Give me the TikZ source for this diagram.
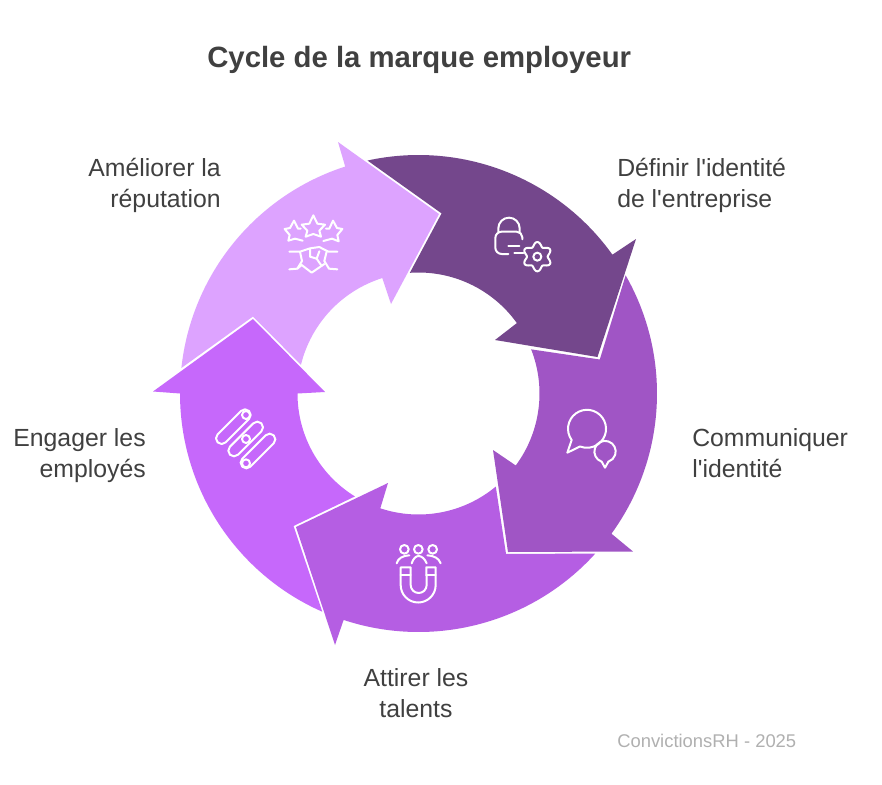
\documentclass[tikz,border=0pt]{standalone}
\usepackage{fontspec}
\setmainfont{Liberation Sans}[Ligatures=TeXOff]
\usetikzlibrary{calc}
\definecolor{arrowA}{HTML}{74478C}
\definecolor{arrowB}{HTML}{A055C5}
\definecolor{arrowC}{HTML}{B55EE3}
\definecolor{arrowD}{HTML}{C668FB}
\definecolor{arrowE}{HTML}{DDA3FF}
\definecolor{inkdark}{HTML}{404040}
\definecolor{inkfoot}{HTML}{B0B0B0}
\tikzset{
  labeltext/.style={inner sep=0pt,text=inkdark,font=\fontsize{18.6}{23.2}\selectfont},
  titletext/.style={inner sep=0pt,text=inkdark,font=\fontsize{22}{27}\selectfont\bfseries},
  foottext/.style={inner sep=0pt,text=inkfoot,font=\fontsize{13.8}{16}\selectfont},
  iconline/.style={draw=white,line width=1.5pt,line cap=round,line join=round},
  iconarea/.style={x=.25pt,y=-.25pt}
}
\begin{document}
\begin{tikzpicture}[x=.75pt,y=-.75pt]
\useasboundingbox (0,0) rectangle (882,785);
\fill[white] (0,0) rectangle (882,785);
\coordinate (c) at (418.5,393.5);
\def\Ro{238.5}
\def\Ri{121}
% arrow 1
\fill[arrowA] ($(c)+(-102.35:\Ro)$) arc[start angle=-102.35,end angle=-35.6,radius=\Ro]
  -- (636,239) -- (597.5,357) -- (495,340) -- ($(c)+(-35.6:\Ri)$)
  arc[start angle=-35.6,end angle=-94.1,radius=\Ri] -- (441.6,213.4) -- cycle;
% arrow 2
\fill[arrowB] ($(c)+(-29.7:\Ro)$) arc[start angle=-29.7,end angle=36,radius=\Ro]
  -- (633,551.5) -- (508,552) -- (493,450) -- ($(c)+(36.5:\Ri)$)
  arc[start angle=36.5,end angle=-21.4,radius=\Ri] -- (599.8,359.5) -- cycle;
% arrow 3
\fill[arrowC] ($(c)+(42.2:\Ro)$) arc[start angle=42.2,end angle=108.3,radius=\Ro]
  -- (335,645) -- (296,527) -- (388,483) -- ($(c)+(108.4:\Ri)$)
  arc[start angle=108.4,end angle=50.3,radius=\Ri] -- (506,553.8) -- cycle;
% arrow 4
\fill[arrowD] ($(c)+(113.8:\Ro)$) arc[start angle=113.8,end angle=180,radius=\Ro]
  -- (153,391.5) -- (253,319) -- (325,392) -- ($(c)+(180:\Ri)$)
  arc[start angle=180,end angle=121.7,radius=\Ri] -- (293.5,526) -- cycle;
% arrow 5
\fill[arrowE] ($(c)+(186.15:\Ro)$) arc[start angle=186.15,end angle=252.1,radius=\Ro]
  -- (338,142) -- (439,214) -- (391,304) -- ($(c)+(252.6:\Ri)$)
  arc[start angle=252.6,end angle=193.7,radius=\Ri] -- (253,316.5) -- cycle;

% lock and gear
\begin{scope}[shift={(260,130)},iconarea]
  \draw[iconline] (715,305) -- (715,295) arc[start angle=180,end angle=360,radius=32] -- (779,305);
  \draw[iconline] (745,372) -- (725,372) arc[start angle=90,end angle=180,radius=19] -- (706,324)
    arc[start angle=180,end angle=270,radius=19] -- (770,305) arc[start angle=270,end angle=360,radius=17] -- (787,328);
  \draw[iconline] (745,347) -- (778,347) (763,369) -- (790,369);
  \draw[iconline] (832,380) circle[radius=12];
  \draw[iconline] plot[domain=0:360,samples=73,smooth cycle] ({832+(37.5+6.5*(-cos(6*\x)))*cos(\x)},{380+(37.5+6.5*(-cos(6*\x)))*sin(\x)});
\end{scope}

% stars and handshake
\begin{scope}[shift={(260,130)},iconarea]
  \draw[iconline] (160,256) -- (172,281) -- (195,284) -- (178,302) -- (183,320) -- (160,312) -- (137,320) -- (142,302) -- (125,284) -- (148,281) -- cycle;
  \draw[iconline] (122,296) -- (114,296) -- (102,272) -- (90,294) -- (74,297) -- (89,315) -- (85,332) -- (105,326) -- (128,332);
  \draw[iconline] (198,296) -- (208,296) -- (219,272) -- (231,294) -- (247,297) -- (232,315) -- (236,334) -- (216,326) -- (190,333);
  \draw[iconline] (88,365) -- (120,365) -- (150,355) -- (178,351) -- (205,365) -- (232,365);
  \draw[iconline] (120,365) -- (126,393) -- (112,416) -- (88,418);
  \draw[iconline] (200,365) -- (193,393) -- (207,416) -- (232,418);
  \draw[iconline] (112,416) -- (125,405) -- (155,428) -- (193,402);
  \draw[iconline] (150,358) -- (150,380) -- (170,386) -- (178,364);
  \draw[iconline] (170,386) -- (185,408);
\end{scope}

% people and magnet
\begin{scope}[shift={(170,310)},iconarea]
  \draw[iconline] (703,718) circle[radius=13] (745,718) circle[radius=13] (788,718) circle[radius=13];
  \draw[iconline] (725,760) .. controls (730,745) and (738,738) .. (746,738) .. controls (755,738) and (765,747) .. (770,760);
  \draw[iconline] (680,760) .. controls (685,745) and (695,738) .. (718,736);
  \draw[iconline] (812,760) .. controls (806,745) and (795,738) .. (772,736);
  \draw[iconline] (692,772) -- (722,772) -- (722,825) arc[start angle=180,end angle=0,radius=24] -- (769,772) -- (797,772) -- (797,825)
     arc[start angle=0,end angle=180,radius=52.5] -- cycle;
  \draw[iconline] (692,795) -- (722,795) (769,795) -- (797,795);
\end{scope}

% speech bubbles
\begin{scope}[shift={(480,230)},iconarea]
  \draw[iconline] (275,630) arc[start angle=143.9,end angle=471.6,radius=57] -- (262,668) -- cycle;
  \draw[iconline] (365,695) arc[start angle=108.4,end angle=431.6,radius=32] -- (375,713) -- cycle;
\end{scope}

% capsules
\begin{scope}[shift={(170,310)},iconarea]
  \draw[iconline,rotate around={45:(190,350)},rounded corners=4.2pt] (123.5,333) rectangle (256.5,367);
  \draw[iconline,rotate around={45:(227,387)},rounded corners=4.2pt] (160.5,370) rectangle (293.5,404);
  \draw[iconline,rotate around={45:(264,423)},rounded corners=4.2pt] (197.5,406) rectangle (330.5,440);
  \draw[iconline] (228,315) circle[radius=12] (228,387) circle[radius=12] (228,460) circle[radius=12];
\end{scope}

\node[titletext,anchor=base west] (title) at (207,67) {Cycle de la marque employeur};
\node[labeltext,anchor=west,align=left] (define) at (617,185) {Définir l'identité\\de l'entreprise};
\node[labeltext,anchor=west,align=left] (comm) at (692,453) {Communiquer\\l'identité};
\node[labeltext,anchor=center,align=center] (attract) at (416,693) {Attirer les\\talents};
\node[labeltext,anchor=east,align=right] (engage) at (146,455.5) {Engager les\\employés};
\node[labeltext,anchor=east,align=right] (improve) at (221,185) {Améliorer la\\réputation};
\node[foottext,anchor=base west] (foot) at (617,747) {ConvictionsRH - 2025};
\end{tikzpicture}
\end{document}
